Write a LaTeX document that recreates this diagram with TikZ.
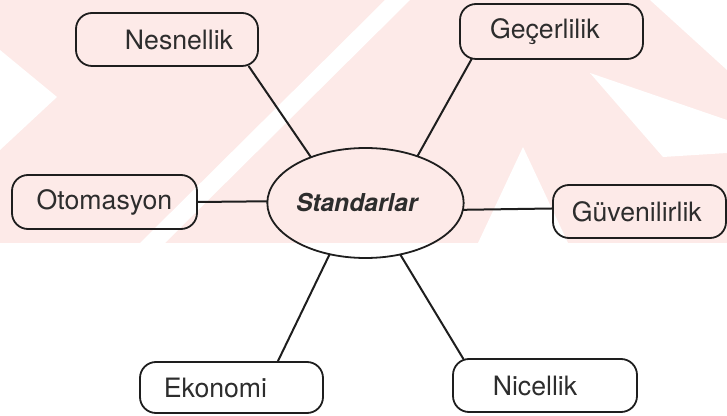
\documentclass[tikz,border=0pt]{standalone}
\usepackage{fontspec}
\setmainfont{TeX Gyre Heros}
\usetikzlibrary{shapes.geometric}
\begin{document}
\begin{tikzpicture}[x=0.75pt,y=-0.75pt,
  wmpink/.style={fill=wm},
  wmwhite/.style={fill=white},
  box/.style={draw=ink,line width=1.35pt,rounded corners=12pt,rectangle,inner sep=0pt,outer sep=0pt,
     text=txt,font=\fontsize{20}{24}\selectfont},
  hub/.style={draw=ink,line width=1.35pt,ellipse,inner sep=0pt,outer sep=0pt,
     text=txt,font=\fontsize{18.5}{22}\selectfont\bfseries\itshape},
  link/.style={draw=ink,line width=1.5pt}]
\definecolor{ink}{RGB}{30,30,30}
\definecolor{txt}{RGB}{45,45,45}
\definecolor{wm}{RGB}{253,234,232}
\useasboundingbox (0,0) rectangle (727,416);
% faint background watermark
\fill[wmpink] (0,0) rectangle (727,243);
\fill[wmwhite] (0,50) -- (57,97) -- (0,150) -- cycle;
\fill[wmwhite] (140,243) -- (385,0) -- (410,0) -- (165,243) -- cycle;
\fill[wmwhite] (523,147) -- (478,243) -- (568,243) -- cycle;
\fill[wmwhite] (590,73) -- (663,157) -- (727,153) -- (727,120) -- cycle;
\fill[wmwhite] (650,0) -- (727,0) -- (727,70) -- cycle;
% nodes
\node[hub,minimum width=181*0.75pt,minimum height=110*0.75pt] (ell) at (365.5,203) {Standarlar\hspace*{13pt}};
\node[box,minimum width=182*0.75pt,minimum height=53*0.75pt] (nes) at (167,39.5) {\hspace*{18pt}Nesnellik};
\node[box,minimum width=183*0.75pt,minimum height=55*0.75pt] (gec) at (551.5,31.5) {Geçerlilik\hspace*{10pt}};
\node[box,minimum width=185*0.75pt,minimum height=54*0.75pt] (oto) at (104.5,202) {Otomasyon};
\node[box,minimum width=173*0.75pt,minimum height=53*0.75pt] (guv) at (639.5,211.5) {Güvenilirlik\hspace*{4pt}};
\node[box,minimum width=183*0.75pt,minimum height=51*0.75pt] (eko) at (231.5,387.5) {Ekonomi\hspace*{24pt}};
\node[box,minimum width=184*0.75pt,minimum height=53*0.75pt] (nic) at (545,385.5) {Nicellik\hspace*{15pt}};
% connectors
\draw[link] (nes.-18.3) -- (ell.140);
\draw[link] (gec.199.1) -- (ell.42.9);
\draw[link] (oto.east) -- (ell.179);
\draw[link] (ell.-4) -- (guv.178.3);
\draw[link] (eko.29.8) -- (ell.235.2);
\draw[link] (nic.162.3) -- (ell.304.8);
\end{tikzpicture}
\end{document}
